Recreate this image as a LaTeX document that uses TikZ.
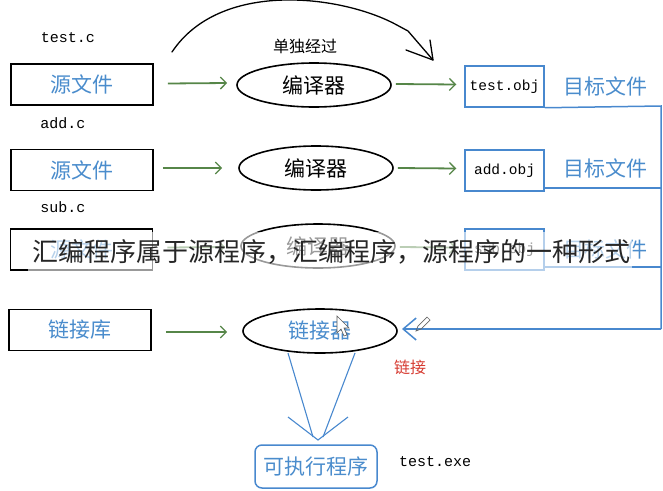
\documentclass[tikz,border=0pt]{standalone}
\usepackage{fontspec}
\setmainfont{Liberation Serif}
\newfontfamily\cjk{Noto Sans CJK SC}
\newfontfamily\monof{Liberation Mono}
\usetikzlibrary{shapes.geometric,arrows.meta,calc}
\definecolor{txtblue}{RGB}{74,140,204}
\definecolor{boxblue}{RGB}{72,136,206}
\definecolor{arrgreen}{RGB}{86,134,72}
\definecolor{lnkred}{RGB}{214,60,50}
\tikzset{
  srcbox/.style={draw=black,line width=1.6pt,minimum width=142pt,minimum height=41pt,inner sep=0pt,text=txtblue,font=\cjk\fontsize{21}{21}\selectfont},
  cmpell/.style={ellipse,draw=black,line width=1.6pt,minimum width=154pt,minimum height=44pt,inner sep=0pt,font=\cjk\fontsize{21}{21}\selectfont},
  objbox/.style={draw=boxblue,line width=1.5pt,minimum width=79pt,minimum height=41pt,inner sep=0pt,font=\monof\fontsize{14.5}{15}\selectfont},
  objlbl/.style={text=txtblue,font=\cjk\fontsize{21}{21}\selectfont,inner sep=0pt},
  fname/.style={font=\monof\fontsize{15}{15}\selectfont,inner sep=0pt},
  garrow/.style={draw=arrgreen,line width=1.8pt,-{Straight Barb[length=6pt,width=12pt,line width=1.3pt]}},
  bline/.style={draw=boxblue,line width=1.5pt},
  bthin/.style={draw=boxblue,line width=1.1pt},
}
\begin{document}
\begin{tikzpicture}[x=1pt,y=-1pt]
\useasboundingbox (0,0) rectangle (663,490);
% file names
\node[fname] (tc) at (68,38) {test.c};
\node[fname] (ac) at (63,123) {add.c};
\node[fname] (sc) at (63,207) {sub.c};
\node[font=\cjk\fontsize{16}{16}\selectfont,inner sep=0pt] (dd) at (305,46) {单独经过};
% row 1
\node[srcbox] (s1) at (82,84.5) {源文件};
\node[cmpell] (c1) at (314,85) {编译器};
\node[objbox] (o1) at (504.5,86.5) {test.obj};
\node[objlbl] (t1) at (605,86) {目标文件};
% row 2
\node[srcbox] (s2) at (82,170) {源文件};
\node[cmpell] (c2) at (316,168) {编译器};
\node[objbox] (o2) at (504.5,170.5) {add.obj};
\node[objlbl] (t2) at (605,168) {目标文件};
% row 3
\node[srcbox] (s3) at (81.5,249.5) {源文件};
\node[cmpell] (c3) at (318,246) {编译器};
\node[objbox] (o3) at (504.5,249.5) {sub.obj};
\node[objlbl] (t3) at (605,249) {目标文件};
% row 4
\node[srcbox] (lib) at (80,330) {链接库};
\node[cmpell,text=txtblue] (lnk) at (320,331) {链接器};
% exe
\node[draw=boxblue,line width=1.5pt,rounded corners=7pt,minimum width=122pt,minimum height=43pt,inner sep=0pt,text=txtblue,font=\cjk\fontsize{21}{21}\selectfont] (exe) at (316,466.5) {可执行程序};
\node[fname] (te) at (435,462) {test.exe};
\node[text=lnkred,font=\cjk\fontsize{16}{16}\selectfont,inner sep=0pt] (lj) at (410,367) {链接};
% green arrows
\draw[garrow] ($(s1.east)+(14,-1)$) -- ($(c1.west)+(-9,-2)$);
\draw[garrow] ($(s2.east)+(9,-2)$) -- ($(c2.west)+(-16,0)$);
\draw[garrow] ($(s3.east)+(14,-2)$) -- ($(c3.west)+(-15,1)$);
\draw[garrow] ($(lib.east)+(14,2)$) -- ($(lnk.west)+(-15,1)$);
\draw[garrow] ($(c1.east)+(4,-1)$) -- ($(o1.west)+(-8,-2)$);
\draw[garrow] ($(c2.east)+(4,0)$) -- ($(o2.west)+(-8,-2)$);
\draw[garrow] ($(c3.east)+(4,1)$) -- ($(o3.west)+(-8,-2)$);
% curved hand-drawn arrow
\coordinate (arcA) at (172,52);
\coordinate (arcM) at (395,24);
\coordinate (arcN) at (408,31);
\coordinate (arcB) at (433,60);
\coordinate (barbU) at (430,40);
\coordinate (barbL) at (406,50);
\draw[line width=1.3pt,line cap=round,line join=round] (arcA) .. controls (220,-20) and (340,-5) .. (arcM) -- (arcN) -- (arcB);
\draw[line width=1.3pt,line cap=round,line join=round] (barbU) -- (arcB) -- (barbL);
% blue bus
\coordinate (bus1) at (661,106);
\coordinate (bus2) at (661,188);
\coordinate (bus3) at (661,267);
\coordinate (busB) at (661,329);
\coordinate (lnkTip) at (402,329);
\draw[bline] (o1.south east) -- (bus1) -- (busB);
\draw[bline] (o2.south east|-bus2) -- (bus2);
\draw[bline] (o3.south east|-bus3) -- (bus3);
\draw[bline,-{Straight Barb[length=13pt,width=22pt,line width=1.5pt]}] (busB) -- (lnkTip);
% down arrow from linker
\coordinate (la1) at (288,353);
\coordinate (la2) at (313,437);
\coordinate (lb1) at (355,353);
\coordinate (lb2) at (323,437);
\coordinate (barbDL) at (288,417);
\coordinate (tipD) at (318,440);
\coordinate (barbDR) at (348,417);
\draw[bthin] (la1) -- (la2);
\draw[bthin] (lb1) -- (lb2);
\draw[bthin] (barbDL) -- (tipD) -- (barbDR);
% mouse cursor
\draw[gray!70!black,fill=white,line width=0.6pt] (337,316) -- (337,333) -- (341,329) -- (344,336) -- (347,335) -- (344,328) -- (349,328) -- cycle;
% pencil
\draw[gray!80!black,line width=0.7pt] (416,331) -- (418,326) -- (427,317) -- (430,320) -- (421,329) -- cycle;
% watermark band and text
\fill[white,opacity=0.6] (28,232) rectangle (632,276);
\node[text=black!85,font=\cjk\fontsize{26}{26}\selectfont,inner sep=0pt] (wm) at (331,252) {汇编程序属于源程序，汇编程序，源程序的一种形式};
\end{tikzpicture}
\end{document}
